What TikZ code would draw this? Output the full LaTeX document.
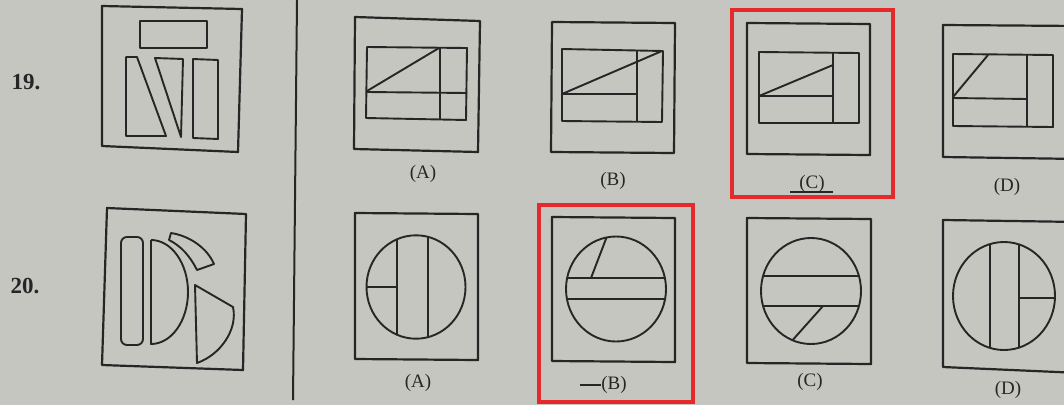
\documentclass[tikz,border=0pt]{standalone}
\usepackage{fontspec}
\setmainfont{Liberation Serif}
\definecolor{paper}{RGB}{198,198,192}
\definecolor{ink}{RGB}{38,38,38}
\definecolor{mark}{RGB}{228,42,42}
\tikzset{
  fig/.style={draw=ink, line width=2.2pt, line join=round},
  thin/.style={draw=ink, line width=1.9pt, line join=round},
  lbl/.style={text=ink, font=\fontsize{19}{22}\selectfont, inner sep=0pt},
  qnum/.style={text=ink, font=\fontsize{23}{26}\selectfont\bfseries, inner sep=0pt},
  redbox/.style={draw=mark, line width=4.5pt}
}
\begin{document}
\begin{tikzpicture}[x=1pt,y=-1pt]
\clip (0,0) rectangle (1064,405);
\fill[paper] (0,0) rectangle (1064,405);

% question numbers and separator
\node[qnum] (n19) at (26,82) {19.};
\node[qnum] (n20) at (25,286) {20.};
\draw[ink, line width=2pt] (297,0) -- (293,400);

% ---------- Question 19 : problem figure ----------
\draw[fig] (102,6) -- (242,9) -- (238,152) -- (102,146) -- cycle;
\draw[thin] (140,21) rectangle (207,48);
\draw[thin] (126,57) -- (137,57) -- (166,136) -- (126,136) -- cycle;
\draw[thin] (155,58) -- (183,59) -- (181,137) -- cycle;
\draw[thin] (193,59) -- (218,60) -- (218,139) -- (193,138) -- cycle;

% 19 (A)
\draw[fig] (355,17) -- (480,21) -- (478,152) -- (354,149) -- cycle;
\draw[thin] (367,47) -- (467,48) -- (466,120) -- (366,118) -- cycle;
\draw[thin] (440,48) -- (440,120);
\draw[thin] (367,92) -- (467,93);
\draw[thin] (367,91) -- (439,48);
\node[lbl] (a19) at (423,174) {(A)};

% 19 (B)
\draw[fig] (552,22) -- (675,23) -- (674,153) -- (551,152) -- cycle;
\draw[thin] (562,49) -- (663,51) -- (662,122) -- (562,121) -- cycle;
\draw[thin] (637,50) -- (637,122);
\draw[thin] (562,94) -- (637,94);
\draw[thin] (562,94) -- (662,51);
\node[lbl] (b19) at (613,181) {(B)};

% 19 (C)
\draw[fig] (747,23) -- (870,24) -- (870,155) -- (747,154) -- cycle;
\draw[thin] (759,52) -- (859,53) -- (859,123) -- (759,123) -- cycle;
\draw[thin] (833,53) -- (833,123);
\draw[thin] (759,96) -- (833,96);
\draw[thin] (759,96) -- (833,65);
\node[lbl] (c19) at (812,184) {(C)};
\draw[ink, line width=1.4pt] (790,192) -- (833,192);
\draw[redbox] (732,10) rectangle (893,197);

% 19 (D)
\draw[fig] (1080,26) -- (943,25) -- (943,157) -- (1080,159);
\draw[thin] (953,54) -- (1053,55) -- (1053,127) -- (953,126) -- cycle;
\draw[thin] (1027,55) -- (1027,127);
\draw[thin] (953,98) -- (1027,99);
\draw[thin] (953,97) -- (988,55);
\node[lbl] (d19) at (1007,187) {(D)};

% ---------- Question 20 : problem figure ----------
\draw[fig] (107,208) -- (246,214) -- (243,370) -- (102,365) -- cycle;
\draw[thin, rounded corners=6pt] (121,237) rectangle (143,345);
\draw[thin] (151,240) -- (151,344)
  arc[start angle=90, end angle=-90, x radius=37, y radius=52];
\draw[thin] (171,233) .. controls (190,236) and (207,248) .. (214,264)
  -- (197,270) .. controls (190,256) and (181,246) .. (169,240) -- cycle;
\draw[thin] (195,285) -- (233,307)
  .. controls (238,330) and (220,355) .. (197,363) -- cycle;

% 20 (A)
\draw[fig] (355,213) -- (478,214) -- (478,360) -- (355,359) -- cycle;
\begin{scope}
  \clip (416,287) ellipse[x radius=49.5, y radius=51.7];
  \draw[thin] (397,220) -- (397,350);
  \draw[thin] (428,220) -- (428,350);
  \draw[thin] (350,287) -- (397,287);
\end{scope}
\draw[thin] (416,287) ellipse[x radius=49.5, y radius=51.7];
\node[lbl] (a20) at (418,383) {(A)};

% 20 (B)
\draw[fig] (552,217) -- (675,218) -- (675,362) -- (552,361) -- cycle;
\begin{scope}
  \clip (616,289) ellipse[x radius=50, y radius=52.5];
  \draw[thin] (550,278) -- (680,278);
  \draw[thin] (550,299) -- (680,299);
  \draw[thin] (591,278) -- (609,231);
\end{scope}
\draw[thin] (616,289) ellipse[x radius=50, y radius=52.5];
\node[lbl] (b20) at (614,385) {(B)};
\draw[ink, line width=1.4pt] (580,385) -- (601,385);
\draw[redbox] (539,205) rectangle (693,402);

% 20 (C)
\draw[fig] (747,218) -- (871,219) -- (871,364) -- (747,363) -- cycle;
\begin{scope}
  \clip (811,291) ellipse[x radius=50, y radius=53];
  \draw[thin] (750,276) -- (870,276);
  \draw[thin] (750,306) -- (870,306);
  \draw[thin] (823,306) -- (790,343);
\end{scope}
\draw[thin] (811,291) ellipse[x radius=50, y radius=53];
\node[lbl] (c20) at (810,382) {(C)};

% 20 (D)
\draw[fig] (1080,222) -- (943,220) -- (943,367) -- (1080,373);
\begin{scope}
  \clip (1004,296) ellipse[x radius=51, y radius=54];
  \draw[thin] (990,230) -- (990,360);
  \draw[thin] (1019,230) -- (1019,360);
  \draw[thin] (1019,298) -- (1070,298);
\end{scope}
\draw[thin] (1004,296) ellipse[x radius=51, y radius=54];
\node[lbl] (d20) at (1008,390) {(D)};
\end{tikzpicture}
\end{document}
